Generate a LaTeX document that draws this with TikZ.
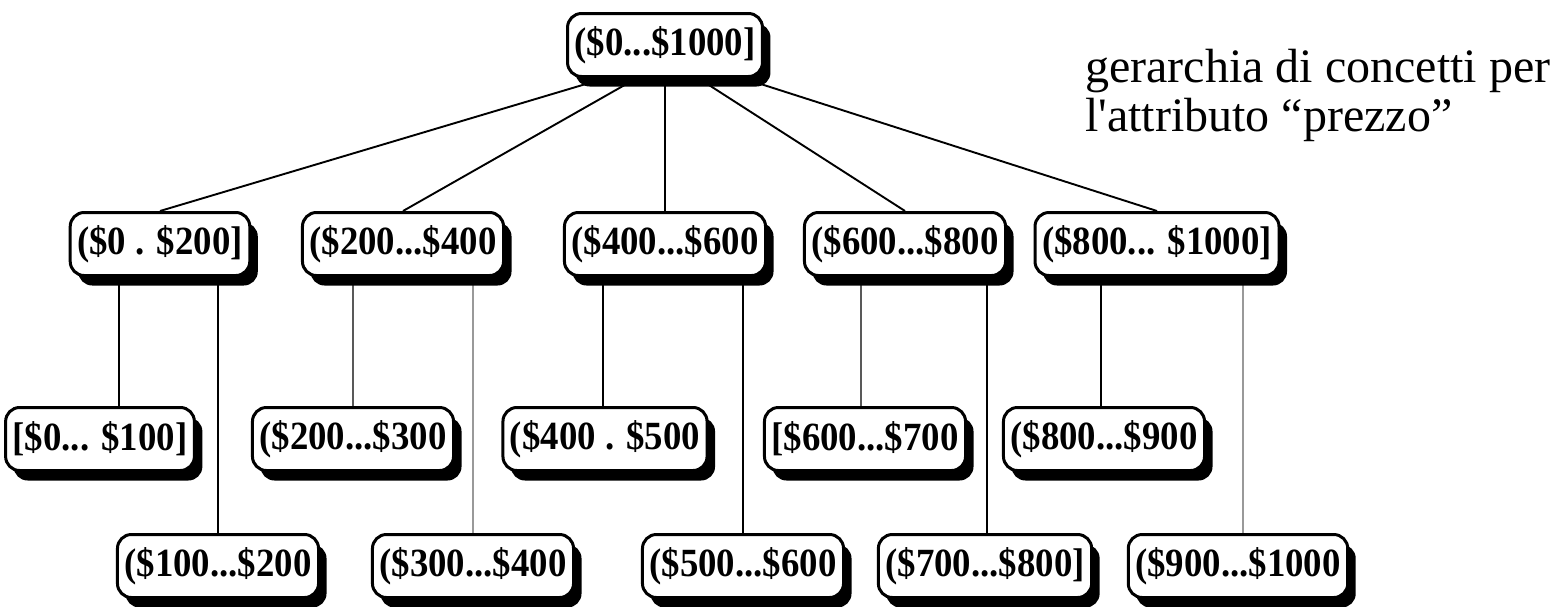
\documentclass[tikz,border=0pt]{standalone}
\usepackage{graphicx}
\usepackage{fontspec}
\setmainfont{Liberation Serif}
\usetikzlibrary{shadows,backgrounds}
\newcommand\lab[1]{\scalebox{0.92}[1]{#1}}
\begin{document}
\begin{tikzpicture}[x=1pt,y=-1pt,
  box/.style={draw, line width=3pt, rounded corners=14pt, fill=white,
    font=\fontsize{40}{40}\selectfont\bfseries, inner xsep=7pt, inner ysep=0pt,
    minimum height=63pt,
    drop shadow={shadow xshift=8pt, shadow yshift=-10pt, fill=black, opacity=1}},
  conn/.style={line width=1.9pt, black},
  connmid/.style={line width=1.4pt, black!65},
  connlight/.style={line width=1.1pt, black!40}]
\useasboundingbox (0,0) rectangle (1568,606);

% root
\node[box] (root) at (665,45) {\lab{(\$0...\$1000]}};

% level 2
\node[box] (a) at (160,244) {\lab{(\$0 . \$200]}};
\node[box] (b) at (403,244) {\lab{(\$200...\$400}};
\node[box] (c) at (665,244) {\lab{(\$400...\$600}};
\node[box] (d) at (905,244) {\lab{(\$600...\$800}};
\node[box] (e) at (1157,244) {\lab{(\$800... \$1000]}};

% level 3
\node[box] (a1) at (100,439) {\lab{[\$0... \$100]}};
\node[box] (b1) at (353,439) {\lab{(\$200...\$300}};
\node[box] (c1) at (605,439) {\lab{(\$400 . \$500}};
\node[box] (d1) at (865,439) {\lab{[\$600...\$700}};
\node[box] (e1) at (1104,439) {\lab{(\$800...\$900}};

% level 4
\node[box] (a2) at (218,566) {\lab{(\$100...\$200}};
\node[box] (b2) at (473,566) {\lab{(\$300...\$400}};
\node[box] (c2) at (743,566) {\lab{(\$500...\$600}};
\node[box] (d2) at (985,566) {\lab{(\$700...\$800]}};
\node[box] (e2) at (1238,566) {\lab{(\$900...\$1000}};

% caption
\node[anchor=north west, align=left, inner sep=0pt,
  font=\fontsize{48}{49}\selectfont] (cap) at (1085,49)
  {gerarchia di concetti per\\l\textquotesingle attributo ``prezzo''};

\begin{pgfonlayer}{background}
  \draw[conn] ([xshift=-59pt]root.south) -- (a.north);
  \draw[conn] ([xshift=-28pt]root.south) -- (b.north);
  \draw[conn] (root.south) -- (c.north);
  \draw[conn] ([xshift=33pt]root.south) -- (d.north);
  \draw[conn] ([xshift=77pt]root.south) -- (e.north);

  \draw[conn] ([xshift=19pt]a1.north |- a.south) -- ([xshift=19pt]a1.north);
  \draw[conn] (a2.north |- a.south) -- (a2.north);
  \draw[connmid] (b1.north |- b.south) -- (b1.north);
  \draw[connlight] (b2.north |- b.south) -- (b2.north);
  \draw[conn] ([xshift=-2pt]c1.north |- c.south) -- ([xshift=-2pt]c1.north);
  \draw[conn] (c2.north |- c.south) -- (c2.north);
  \draw[connmid] ([xshift=-4pt]d1.north |- d.south) -- ([xshift=-4pt]d1.north);
  \draw[conn] ([xshift=2pt]d2.north |- d.south) -- ([xshift=2pt]d2.north);
  \draw[conn] ([xshift=-3pt]e1.north |- e.south) -- ([xshift=-3pt]e1.north);
  \draw[connlight] ([xshift=5pt]e2.north |- e.south) -- ([xshift=5pt]e2.north);
\end{pgfonlayer}
\end{tikzpicture}
\end{document}
